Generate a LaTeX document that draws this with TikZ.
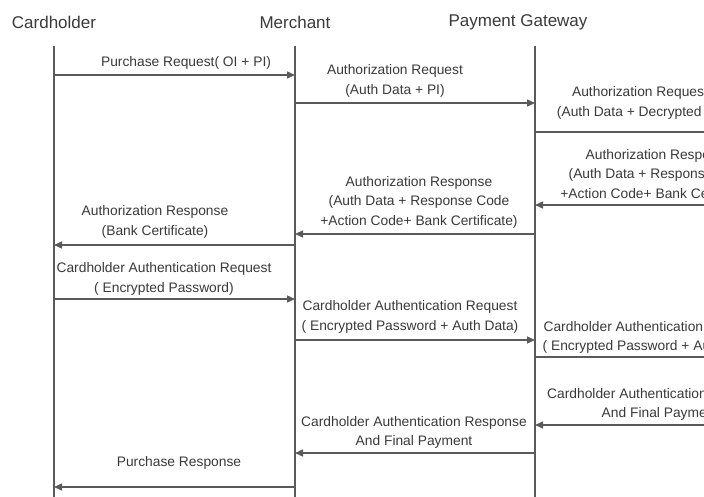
\documentclass[tikz,border=0pt]{standalone}
\usepackage{fontspec}
\setmainfont{Liberation Sans}
\usetikzlibrary{arrows.meta}
\definecolor{txt}{HTML}{3A3A3A}
\definecolor{ln}{HTML}{5A5A5A}
\begin{document}
\begin{tikzpicture}[x=1pt,y=-1pt,
  title/.style={font=\fontsize{17}{20}\selectfont, text=txt, inner sep=0pt},
  msg/.style={font=\fontsize{13.8}{19.5}\selectfont, text=txt, inner sep=0pt, align=center},
  life/.style={draw=ln, line width=1.4pt},
  call/.style={draw=ln, line width=1.4pt, -{Triangle[length=8pt,width=7pt]}},
  plain/.style={draw=ln, line width=1.4pt}]
\useasboundingbox (0,0) rectangle (704,496);
\clip (0,0) rectangle (704,496);
\fill[white] (0,0) rectangle (704,496);

% titles
\node[title] (tC) at (54,22) {Cardholder};
\node[title] (tM) at (295,22) {Merchant};
\node[title] (tP) at (518,22) {Payment Gateway};

% lifelines
\coordinate (Ctop) at (54,46);   \coordinate (Cbot) at (54,500);
\coordinate (Mtop) at (295,46);  \coordinate (Mbot) at (295,500);
\coordinate (Ptop) at (535,46);  \coordinate (Pbot) at (535,500);
\draw[life] (Ctop) -- (Cbot);
\draw[life] (Mtop) -- (Mbot);
\draw[life] (Ptop) -- (Pbot);

% 1
\coordinate (c1) at (54,75); \coordinate (m1) at (295,75);
\node[msg] (l1) at (186,63) {Purchase Request( OI + PI)};
\draw[call] (c1) -- (m1);
% 2
\coordinate (m2) at (295,103); \coordinate (p2) at (535,103);
\node[msg] (l2) at (395,81) {Authorization Request\\(Auth Data + PI)};
\draw[call] (m2) -- (p2);
% 3
\coordinate (p3) at (535,132); \coordinate (r3) at (720,132);
\node[msg] (l3) at (640,103) {Authorization Request\\(Auth Data + Decrypted PI)};
\draw[plain] (p3) -- (r3);
% 4
\coordinate (r4) at (720,205); \coordinate (p4) at (535,205);
\node[msg] (l4) at (659,175) {Authorization Response\\(Auth Data + Response Code\\+Action Code+ Bank Certificate)};
\draw[call] (r4) -- (p4);
% 5
\coordinate (p5) at (535,234); \coordinate (m5) at (295,234);
\node[msg] (l5) at (419,202) {Authorization Response\\(Auth Data + Response Code\\+Action Code+ Bank Certificate)};
\draw[call] (p5) -- (m5);
% 6
\coordinate (m6) at (295,245); \coordinate (c6) at (54,245);
\node[msg] (l6) at (155,222) {Authorization Response\\(Bank Certificate)};
\draw[call] (m6) -- (c6);
% 7
\coordinate (c7) at (54,299); \coordinate (m7) at (295,299);
\node[msg] (l7) at (164,279) {Cardholder Authentication Request\\( Encrypted Password)};
\draw[call] (c7) -- (m7);
% 8
\coordinate (m8) at (295,340); \coordinate (p8) at (535,340);
\node[msg] (l8) at (410,317) {Cardholder Authentication Request\\( Encrypted Password + Auth Data)};
\draw[call] (m8) -- (p8);
% 9
\coordinate (p9) at (535,357); \coordinate (r9) at (720,357);
\node[msg] (l9) at (651,337.5) {Cardholder Authentication Request\\( Encrypted Password + Auth Data)};
\draw[plain] (p9) -- (r9);
% 10
\coordinate (r10) at (720,425); \coordinate (p10) at (535,425);
\node[msg] (l10) at (660,404.5) {Cardholder Authentication Response\\And Final Payment};
\draw[call] (r10) -- (p10);
% 11
\coordinate (p11) at (535,453); \coordinate (m11) at (295,453);
\node[msg] (l11) at (414,432.5) {Cardholder Authentication Response\\And Final Payment};
\draw[call] (p11) -- (m11);
% 12
\coordinate (m12) at (295,487); \coordinate (c12) at (54,487);
\node[msg] (l12) at (179,463) {Purchase Response};
\draw[call] (m12) -- (c12);
\end{tikzpicture}
\end{document}
